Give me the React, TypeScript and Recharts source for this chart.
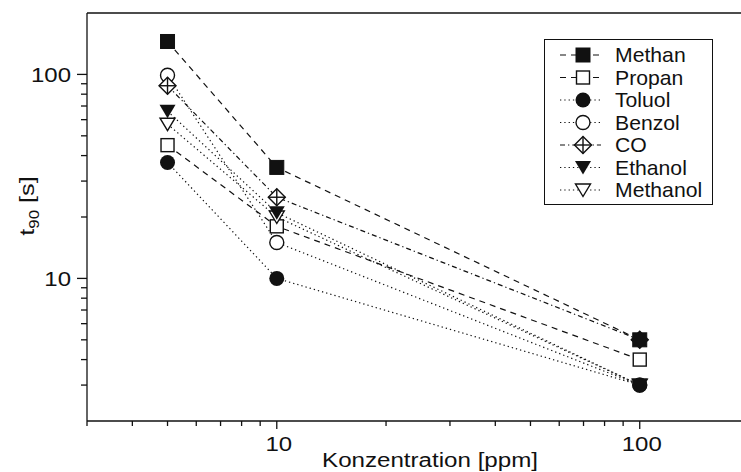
import React from 'react';
import { LineChart, Line, XAxis, YAxis, Legend } from 'recharts';

// concentration steps (ppm) and t90 response times (s) per gas
const concentrations = [5, 10, 100];
const methan = [145, 35, 5];
const propan = [45, 18, 4];
const toluol = [37, 10, 3];
const benzol = [99, 15, 3];
const co = [88, 25, 5];
const ethanol = [66, 21, 3];
const methanol = [57, 20, 3];

const xTicks = [3, 4, 5, 6, 7, 8, 9, 10, 20, 30, 40, 50, 60, 70, 80, 90, 100];
const yTicks = [3, 4, 5, 6, 7, 8, 9, 10, 20, 30, 40, 50, 60, 70, 80, 90, 100];
const majorTicks = [10, 100];

const INK = '#111';
const FONT = '"Liberation Sans", Arial, Helvetica, sans-serif';

type MarkerKind = 'squareFilled' | 'squareOpen' | 'circleFilled' | 'circleOpen' | 'diamondCross' | 'triFilled' | 'triOpen';

interface Series {
  name: string;
  values: number[];
  dash: string;
  marker: MarkerKind;
}

const series: Series[] = [
  { name: 'Methan', values: methan, dash: '6 5', marker: 'squareFilled' },
  { name: 'Propan', values: propan, dash: '6 5', marker: 'squareOpen' },
  { name: 'Toluol', values: toluol, dash: '1.3 3', marker: 'circleFilled' },
  { name: 'Benzol', values: benzol, dash: '1.3 3', marker: 'circleOpen' },
  { name: 'CO', values: co, dash: '5 3 1.3 3', marker: 'diamondCross' },
  { name: 'Ethanol', values: ethanol, dash: '1.3 3', marker: 'triFilled' },
  { name: 'Methanol', values: methanol, dash: '1.3 3', marker: 'triOpen' },
];

// open symbols go underneath so the filled ones stay on top where they overlap
const drawOrder = ['Propan', 'Benzol', 'CO', 'Methanol', 'Methan', 'Toluol', 'Ethanol'];

const data = concentrations.map((c, i) => {
  const row: Record<string, number> = { x: c };
  series.forEach((s) => {
    row[s.name] = s.values[i];
  });
  return row;
});

const Marker = ({ kind, cx, cy }: { kind: MarkerKind; cx: number; cy: number }) => {
  const sw = 1.4;
  switch (kind) {
    case 'squareFilled':
      return <rect x={cx - 7} y={cy - 7} width={14} height={14} fill={INK} stroke={INK} strokeWidth={1} />;
    case 'squareOpen':
      return <rect x={cx - 6.5} y={cy - 6.5} width={13} height={13} fill="#fff" stroke={INK} strokeWidth={sw} />;
    case 'circleFilled':
      return <circle cx={cx} cy={cy} r={7.5} fill={INK} />;
    case 'circleOpen':
      return <circle cx={cx} cy={cy} r={7} fill="#fff" stroke={INK} strokeWidth={sw} />;
    case 'diamondCross':
      return (
        <g fill="none" stroke={INK} strokeWidth={sw}>
          <path d={`M${cx},${cy - 8.5} L${cx + 8.5},${cy} L${cx},${cy + 8.5} L${cx - 8.5},${cy} Z`} fill="#fff" />
          <line x1={cx - 8.5} y1={cy} x2={cx + 8.5} y2={cy} />
          <line x1={cx} y1={cy - 8.5} x2={cx} y2={cy + 8.5} />
        </g>
      );
    case 'triFilled':
      return <path d={`M${cx - 8},${cy - 6.5} L${cx + 8},${cy - 6.5} L${cx},${cy + 7} Z`} fill={INK} />;
    case 'triOpen':
      return (
        <path
          d={`M${cx - 7.5},${cy - 6} L${cx + 7.5},${cy - 6} L${cx},${cy + 6.5} Z`}
          fill="#fff"
          stroke={INK}
          strokeWidth={sw}
          strokeLinejoin="miter"
        />
      );
    default:
      return null;
  }
};

const BottomTick = (props: any) => {
  const { x, y, payload } = props;
  const major = majorTicks.includes(payload.value);
  return (
    <g>
      <line x1={x} x2={x} y1={y} y2={y + (major ? 8 : 5)} stroke={INK} strokeWidth={1.3} />
      {major && (
        <text
          transform={`translate(${x + 2},${y + 30}) scale(1.2,1)`}
          textAnchor="middle"
          fontSize={20}
          fill={INK}
          fontFamily={FONT}
        >
          {payload.value}
        </text>
      )}
    </g>
  );
};

const TopTick = (props: any) => {
  const { x, y } = props;
  return <line x1={x} x2={x} y1={y} y2={y + 8} stroke={INK} strokeWidth={1.3} />;
};

const LeftTick = (props: any) => {
  const { x, y, payload } = props;
  const major = majorTicks.includes(payload.value);
  return (
    <g>
      <line x1={x} x2={x - (major ? 10 : 6)} y1={y} y2={y} stroke={INK} strokeWidth={1.3} />
      {major && (
        <text
          transform={`translate(${x - 16},${y + 8}) scale(1.2,1)`}
          textAnchor="end"
          fontSize={20}
          fill={INK}
          fontFamily={FONT}
        >
          {payload.value}
        </text>
      )}
    </g>
  );
};

const LegendBox = () => (
  <div style={{ width: 169, height: 166, border: `1.5px solid ${INK}`, boxSizing: 'border-box', background: '#fff' }}>
    <svg width={166} height={163} style={{ display: 'block' }}>
      {series.map((s, i) => {
        const cy = 15 + i * 22.5;
        return (
          <g key={s.name}>
            <line x1={15} x2={56} y1={cy} y2={cy} stroke={INK} strokeWidth={1.2} strokeDasharray={s.dash} />
            <Marker kind={s.marker} cx={38} cy={cy} />
            <text
              transform={`translate(70,${cy + 7}) scale(1.06,1)`}
              fontSize={20}
              fill={INK}
              fontFamily={FONT}
            >
              {s.name}
            </text>
          </g>
        );
      })}
    </svg>
  </div>
);

const XTitle = () => (
  <text transform="translate(430,467) scale(1.15,1)" textAnchor="middle" fontSize={21} fill={INK} fontFamily={FONT}>
    Konzentration [ppm]
  </text>
);

const YTitle = () => (
  <text transform="translate(34,206) rotate(-90) scale(1.2,1)" textAnchor="middle" fontSize={21} fill={INK} fontFamily={FONT}>
    t
    <tspan fontSize={14} dy={5}>
      90
    </tspan>
    <tspan dy={-5}> [s]</tspan>
  </text>
);

export default function App() {
  const ordered = drawOrder.map((n) => series.find((s) => s.name === n)!);
  return (
    <div style={{ position: 'fixed', left: 0, top: 0, width: 741, height: 472, overflow: 'hidden', background: '#fff' }}>
      <LineChart
        width={760}
        height={472}
        data={data}
        margin={{ top: 12, right: 11, bottom: 0, left: 0 }}
        style={{ fontFamily: FONT }}
      >
        <XAxis
          dataKey="x"
          type="number"
          scale="log"
          domain={[3, 200]}
          allowDataOverflow
          ticks={xTicks}
          interval={0}
          tick={<BottomTick />}
          tickLine={false}
          tickSize={0}
          tickMargin={0}
          height={51}
          axisLine={{ stroke: INK, strokeWidth: 1.3 }}
          label={<XTitle />}
        />
        <XAxis
          xAxisId="top"
          orientation="top"
          type="number"
          scale="log"
          domain={[3, 200]}
          allowDataOverflow
          ticks={majorTicks}
          interval={0}
          tick={<TopTick />}
          tickLine={false}
          tickSize={0}
          tickMargin={0}
          height={1}
          axisLine={{ stroke: INK, strokeWidth: 1.3 }}
        />
        <YAxis
          type="number"
          scale="log"
          domain={[2, 200]}
          allowDataOverflow
          ticks={yTicks}
          interval={0}
          tick={<LeftTick />}
          tickLine={false}
          tickSize={0}
          tickMargin={0}
          width={87}
          axisLine={{ stroke: INK, strokeWidth: 1.3 }}
          label={<YTitle />}
        />
        <Legend
          layout="vertical"
          align="center"
          verticalAlign="middle"
          content={() => <LegendBox />}
          wrapperStyle={{ left: 544, top: 39, width: 169, height: 166 }}
        />
        {ordered.map((s) => (
          <Line
            key={s.name}
            dataKey={s.name}
            stroke={INK}
            strokeWidth={1.2}
            strokeDasharray={s.dash}
            isAnimationActive={false}
            activeDot={false}
            dot={(p: any) => <Marker key={`${s.name}-${p.index}`} kind={s.marker} cx={p.cx} cy={p.cy} />}
          />
        ))}
      </LineChart>
    </div>
  );
}
